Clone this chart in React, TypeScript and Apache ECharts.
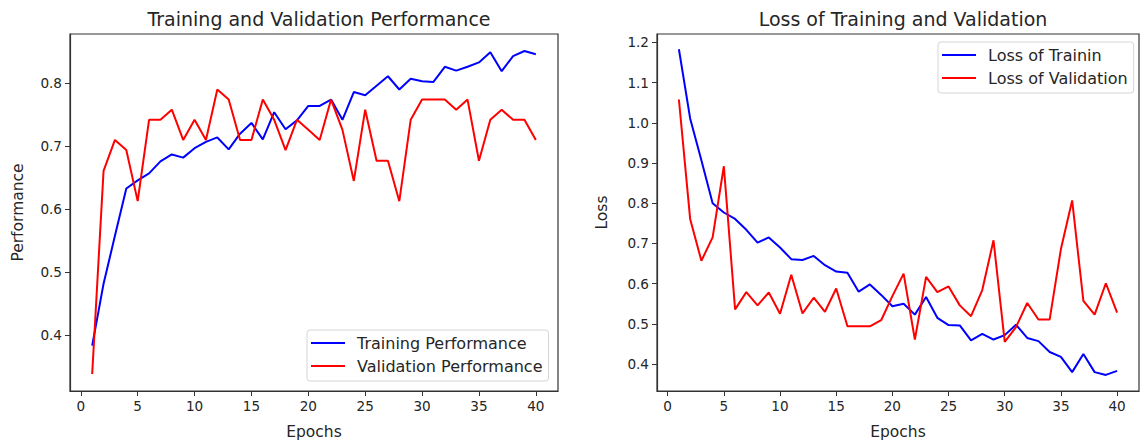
import React, { useEffect, useRef } from "react";
import * as echarts from "echarts";

const epochs = Array.from({ length: 40 }, (_, i) => i + 1);

const trainPerf = [
  0.384, 0.482, 0.558, 0.633, 0.646, 0.657, 0.676, 0.687, 0.682, 0.697,
  0.707, 0.714, 0.695, 0.72, 0.737, 0.711, 0.754, 0.727, 0.741, 0.764,
  0.764, 0.774, 0.742, 0.786, 0.781, 0.796, 0.811, 0.79, 0.807, 0.803,
  0.802, 0.826, 0.82, 0.826, 0.833, 0.849, 0.819, 0.843, 0.851, 0.846,
];
const valPerf = [
  0.339, 0.661, 0.71, 0.694, 0.613, 0.742, 0.742, 0.758, 0.71, 0.742,
  0.71, 0.79, 0.774, 0.71, 0.71, 0.774, 0.742, 0.694, 0.742, 0.726,
  0.71, 0.774, 0.726, 0.645, 0.758, 0.677, 0.677, 0.613, 0.742, 0.774,
  0.774, 0.774, 0.758, 0.774, 0.677, 0.742, 0.758, 0.742, 0.742, 0.71,
];
const trainLoss = [
  1.183, 1.011, 0.907, 0.8, 0.777, 0.761, 0.734, 0.702, 0.715, 0.69,
  0.661, 0.659, 0.669, 0.646, 0.63, 0.627, 0.58, 0.598, 0.572, 0.544,
  0.55, 0.523, 0.567, 0.515, 0.497, 0.496, 0.459, 0.475, 0.461, 0.472,
  0.498, 0.465, 0.457, 0.43, 0.418, 0.38, 0.425, 0.38, 0.373, 0.383,
];
const valLoss = [
  1.058, 0.761, 0.657, 0.715, 0.892, 0.536, 0.579, 0.546, 0.578, 0.525,
  0.622, 0.526, 0.565, 0.53, 0.588, 0.494, 0.494, 0.494, 0.509, 0.569,
  0.625, 0.461, 0.617, 0.579, 0.593, 0.546, 0.519, 0.584, 0.708, 0.455,
  0.492, 0.552, 0.511, 0.511, 0.686, 0.807, 0.557, 0.523, 0.601, 0.528,
];

const xTicks = [0, 5, 10, 15, 20, 25, 30, 35, 40];
const perfTicks = [0.4, 0.5, 0.6, 0.7, 0.8];
const lossTicks = [0.4, 0.5, 0.6, 0.7, 0.8, 0.9, 1.0, 1.1, 1.2];

const FONT = "DejaVu Sans";
const TXT = "#262626";

const pairs = (ys: number[]) => epochs.map((e, i) => [e, ys[i]]);

function xAxisCfg(gridIndex: number) {
  return {
    type: "value",
    gridIndex,
    min: -0.95,
    max: 41.95,
    name: "Epochs",
    nameLocation: "middle",
    nameGap: 33,
    nameTextStyle: { fontFamily: FONT, fontSize: 15.5, color: TXT },
    axisLine: { show: true, onZero: false, lineStyle: { color: "#333", width: 1.2 } },
    axisTick: { show: true, inside: false, length: 5, customValues: xTicks, lineStyle: { color: "#333" } },
    axisLabel: { customValues: xTicks, fontFamily: FONT, fontSize: 13.6, color: TXT, margin: 8 },
    splitLine: { show: false },
  };
}

function yAxisCfg(gridIndex: number, min: number, max: number, ticks: number[], name: string, gap: number) {
  return {
    type: "value",
    gridIndex,
    min,
    max,
    name,
    nameLocation: "middle",
    nameGap: gap,
    nameTextStyle: { fontFamily: FONT, fontSize: 15.5, color: TXT },
    axisLine: { show: true, onZero: false, lineStyle: { color: "#333", width: 1.2 } },
    axisTick: { show: true, inside: false, length: 5, customValues: ticks, lineStyle: { color: "#333" } },
    axisLabel: {
      customValues: ticks,
      fontFamily: FONT,
      fontSize: 13.6,
      color: TXT,
      margin: 8,
      formatter: (v: number) => v.toFixed(1),
    },
    splitLine: { show: false },
  };
}

function lineSeries(name: string, ys: number[], color: string, idx: number) {
  return {
    type: "line",
    name,
    xAxisIndex: idx,
    yAxisIndex: idx,
    data: pairs(ys),
    showSymbol: false,
    symbol: "none",
    lineStyle: { color, width: 2 },
    itemStyle: { color },
  };
}

export default function App() {
  const ref = useRef<HTMLDivElement>(null);
  useEffect(() => {
    if (!ref.current) return;
    const chart = echarts.init(ref.current, null, { renderer: "svg" });
    const legendCommon = {
      orient: "vertical",
      icon: "rect",
      itemWidth: 34,
      itemHeight: 2,
      itemGap: 7,
      padding: [5, 6, 7, 4],
      borderColor: "#d5d5d5",
      borderWidth: 1,
      borderRadius: 3,
      backgroundColor: "rgba(255,255,255,0.8)",
      textStyle: { fontFamily: FONT, fontSize: 16, color: TXT, padding: [0, 0, 0, 7] },
    };
    chart.setOption({
      animation: false,
      backgroundColor: "#ffffff",
      title: [
        {
          text: "Training and Validation Performance",
          left: 314,
          top: 4,
          textAlign: "center",
          textStyle: { fontFamily: FONT, fontSize: 19, fontWeight: "normal", color: TXT },
        },
        {
          text: "Loss of Training and Validation",
          left: 898,
          top: 4,
          textAlign: "center",
          textStyle: { fontFamily: FONT, fontSize: 19, fontWeight: "normal", color: TXT },
        },
      ],
      grid: [
        { left: 70, top: 34, width: 488, height: 357, show: true, borderColor: "#333", borderWidth: 1.2, backgroundColor: "transparent" },
        { left: 657, top: 34, width: 482, height: 357, show: true, borderColor: "#333", borderWidth: 1.2, backgroundColor: "transparent" },
      ],
      xAxis: [xAxisCfg(0), xAxisCfg(1)],
      yAxis: [
        yAxisCfg(0, 0.312, 0.878, perfTicks, "Performance", 44),
        yAxisCfg(1, 0.333, 1.221, lossTicks, "Loss", 47),
      ],
      legend: [
        { ...legendCommon, data: ["Training Performance", "Validation Performance"], left: 307, top: 330 },
        { ...legendCommon, data: ["Loss of Trainin", "Loss of Validation"], left: 938, top: 42 },
      ],
      series: [
        lineSeries("Training Performance", trainPerf, "#0000ff", 0),
        lineSeries("Validation Performance", valPerf, "#ff0000", 0),
        lineSeries("Loss of Trainin", trainLoss, "#0000ff", 1),
        lineSeries("Loss of Validation", valLoss, "#ff0000", 1),
      ],
    });
    return () => chart.dispose();
  }, []);
  return (
    <div
      ref={ref}
      style={{ position: "fixed", left: 0, top: 0, width: 1140, height: 448, background: "#fff" }}
    />
  );
}
